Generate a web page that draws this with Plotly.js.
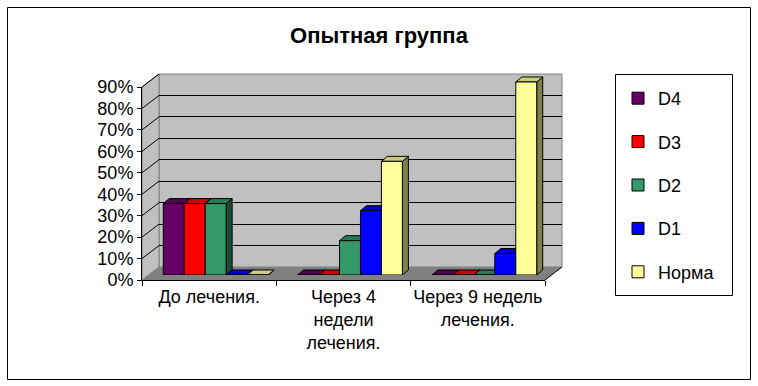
<!DOCTYPE html>
<html><head><meta charset="utf-8">
<script src="https://cdn.plot.ly/plotly-3.0.1.min.js"></script>
<style>html,body{margin:0;padding:0;background:#fff}#chart{width:758px;height:386px}</style>
</head><body><div id="chart"></div>
<script>
// ---- data ----
const categories = ['До лечения.', 'Через 4 недели лечения.', 'Через 9 недель лечения.'];
const tickLabels = ['До лечения.', 'Через 4<br>недели<br>лечения.', 'Через 9 недель<br>лечения.'];
const seriesNames = ['D4', 'D3', 'D2', 'D1', 'Норма'];
const d4 = [33.3, 0, 0];
const d3 = [33.3, 0, 0];
const d2 = [33.3, 16, 0];
const d1 = [0, 30, 10];
const norma = [0, 53, 90];
const yTickVals = [0, 10, 20, 30, 40, 50, 60, 70, 80, 90];
const yTickText = ['0%', '10%', '20%', '30%', '40%', '50%', '60%', '70%', '80%', '90%'];
const titleText = 'Опытная группа';

// ---- styles ----
const frontColors = ['#660066', '#FF0000', '#339966', '#0000FF', '#FFFF99'];
const topColors   = ['#520052', '#CC0000', '#297A52', '#0000CC', '#CCCC7A'];
const sideColors  = ['#330033', '#800000', '#1A4D33', '#000080', '#80804C'];
const FONT = 'Arial, "Liberation Sans", sans-serif';

const W = 758, H = 386;
const PX = x => x / W;
const PY = y => 1 - y / H;

// geometry (pixels)
const front = {l: 142, r: 545, b: 280, t: 87};
const DX = 17, DY = 13;
const back = {l: front.l + DX, r: front.r + DX, b: front.b - DY, t: front.t - DY};
const pxPerPct = (front.b - front.t) / 90;
const barPlane = {l: 148.5, r: 551.5, b: 275};
barPlane.t = barPlane.b - 100 * pxPerPct;
const catPx = (barPlane.r - barPlane.l) / 3;
const faceDX = 6 / catPx;          // in x units
const faceDY = 5 / pxPerPct;       // in % units
const groupW = 0.78, barW = groupW / 5;

const series = [d4, d3, d2, d1, norma];
const xIdx = categories.map((c, i) => i);

const data = [];
// dummy trace for back wall grid subplot
data.push({type: 'scatter', x: [0], y: [null], xaxis: 'x', yaxis: 'y', showlegend: false, hoverinfo: 'skip'});
// 3D faces (top + side) in subplot x2/y2 (beneath the bar fronts)
series.forEach((vals, s) => {
  vals.forEach((v, i) => {
    const x0 = xIdx[i] - groupW / 2 + barW * s;
    const x1 = x0 + barW;
    data.push({type: 'scatter', mode: 'lines', xaxis: 'x2', yaxis: 'y2', showlegend: false, hoverinfo: 'skip',
      x: [x1, x1, x1 + faceDX, x1 + faceDX, x1], y: [0, v, v + faceDY, faceDY, 0],
      fill: 'toself', fillcolor: sideColors[s], line: {color: '#000', width: 1}});
    data.push({type: 'scatter', mode: 'lines', xaxis: 'x2', yaxis: 'y2', showlegend: false, hoverinfo: 'skip',
      x: [x0, x1, x1 + faceDX, x0 + faceDX, x0], y: [v, v, v + faceDY, v + faceDY, v],
      fill: 'toself', fillcolor: topColors[s], line: {color: '#000', width: 1}});
  });
});
// bar fronts
series.forEach((vals, s) => {
  data.push({type: 'bar', name: seriesNames[s], x: xIdx, y: vals, xaxis: 'x3', yaxis: 'y3',
    width: barW, offset: -groupW / 2 + barW * s, legendgroup: 'g' + s,
    marker: {color: frontColors[s], line: {color: '#000', width: 1}}, hoverinfo: 'skip'});
});
// front axes dummy
data.push({type: 'scatter', x: tickLabels, y: tickLabels.map(() => null), xaxis: 'x4', yaxis: 'y4', showlegend: false, hoverinfo: 'skip'});

const shapes = [];
// outer border
shapes.push({type: 'rect', xref: 'paper', yref: 'paper', x0: PX(7.5), x1: PX(750.5), y0: PY(7.5), y1: PY(379.5), line: {color: '#000', width: 1}, layer: 'below'});
// back wall
shapes.push({type: 'rect', xref: 'paper', yref: 'paper', x0: PX(back.l), x1: PX(back.r), y0: PY(back.b), y1: PY(back.t), fillcolor: '#C0C0C0', line: {color: '#808080', width: 1}, layer: 'below'});
// side wall
const path = pts => 'M' + pts.map(p => PX(p[0]) + ',' + PY(p[1])).join('L') + 'Z';
shapes.push({type: 'path', xref: 'paper', yref: 'paper', path: path([[front.l, front.t], [back.l, back.t], [back.l, back.b], [front.l, front.b]]), fillcolor: '#C0C0C0', line: {color: '#808080', width: 1}, layer: 'below'});
// floor
shapes.push({type: 'path', xref: 'paper', yref: 'paper', path: path([[front.l, front.b], [back.l, back.b], [back.r, back.b], [front.r, front.b]]), fillcolor: '#808080', line: {width: 0}, layer: 'below'});
// floor right edge
shapes.push({type: 'line', xref: 'paper', yref: 'paper', x0: PX(front.r), y0: PY(front.b), x1: PX(back.r), y1: PY(back.b), line: {color: '#000', width: 1}, layer: 'below'});
// side wall grid lines
yTickVals.slice(1).forEach(v => {
  const yf = front.b - v * pxPerPct;
  shapes.push({type: 'line', xref: 'paper', yref: 'paper', x0: PX(front.l), y0: PY(yf), x1: PX(back.l), y1: PY(yf - DY), line: {color: '#000', width: 1}, layer: 'below'});
});
// legend box
shapes.push({type: 'rect', xref: 'paper', yref: 'paper', x0: PX(615.5), x1: PX(732.5), y0: PY(74.5), y1: PY(295.5), line: {color: '#000', width: 1}, layer: 'below'});

const layout = {
  width: W, height: H,
  margin: {l: 0, r: 0, t: 0, b: 0, autoexpand: false},
  paper_bgcolor: '#fff', plot_bgcolor: 'rgba(0,0,0,0)',
  font: {family: FONT, size: 18, color: '#000'},
  title: {text: titleText, font: {family: FONT, size: 22, color: '#000', weight: 'bold'}, x: PX(379), xanchor: 'center', xref: 'container', y: PY(35), yanchor: 'middle', yref: 'container'},
  barmode: 'overlay',
  showlegend: true,
  legend: {x: PX(618), y: PY(80), xanchor: 'left', yanchor: 'top', bgcolor: 'rgba(0,0,0,0)', borderwidth: 0, tracegroupgap: 17, font: {family: FONT, size: 18, color: '#000'}, itemclick: false, itemdoubleclick: false},
  // back wall grid
  xaxis: {domain: [PX(back.l), PX(back.r)], range: [0, 1], visible: false, fixedrange: true},
  yaxis: {domain: [PY(back.b), PY(back.t)], range: [0, 90], tickvals: yTickVals.slice(1, -1), showticklabels: false, ticks: '', showgrid: true, gridcolor: '#000', gridwidth: 1, zeroline: false, showline: false, fixedrange: true, anchor: 'x'},
  // faces
  xaxis2: {domain: [PX(barPlane.l), PX(barPlane.r)], range: [-0.5, 2.5], visible: false, fixedrange: true, anchor: 'y2'},
  yaxis2: {domain: [PY(barPlane.b), PY(barPlane.t)], range: [0, 100], visible: false, fixedrange: true, anchor: 'x2'},
  // bars
  xaxis3: {domain: [PX(barPlane.l), PX(barPlane.r)], range: [-0.5, 2.5], visible: false, fixedrange: true, anchor: 'y3'},
  yaxis3: {domain: [PY(barPlane.b), PY(barPlane.t)], range: [0, 100], visible: false, fixedrange: true, anchor: 'x3'},
  // front axes
  xaxis4: {domain: [PX(front.l), PX(front.r)], type: 'category', categoryorder: 'array', categoryarray: tickLabels, range: [-0.5, 2.5],
    showline: true, linecolor: '#000', linewidth: 1, ticks: 'outside', tickson: 'boundaries', ticklen: 5, tickcolor: '#000', tickangle: 0,
    showgrid: false, zeroline: false, tickfont: {family: FONT, size: 18, color: '#000'}, anchor: 'y4', fixedrange: true},
  yaxis4: {domain: [PY(front.b), PY(front.t)], range: [0, 90], tickmode: 'array', tickvals: yTickVals, ticktext: yTickText, showline: true, linecolor: '#000', linewidth: 1,
    ticks: 'outside', ticklen: 4, tickcolor: '#000', showgrid: false, zeroline: false, tickfont: {family: FONT, size: 18, color: '#000'}, anchor: 'x4', fixedrange: true},
  shapes: shapes
};

Plotly.newPlot('chart', data, layout, {staticPlot: true, displayModeBar: false});
</script>
</body></html>
